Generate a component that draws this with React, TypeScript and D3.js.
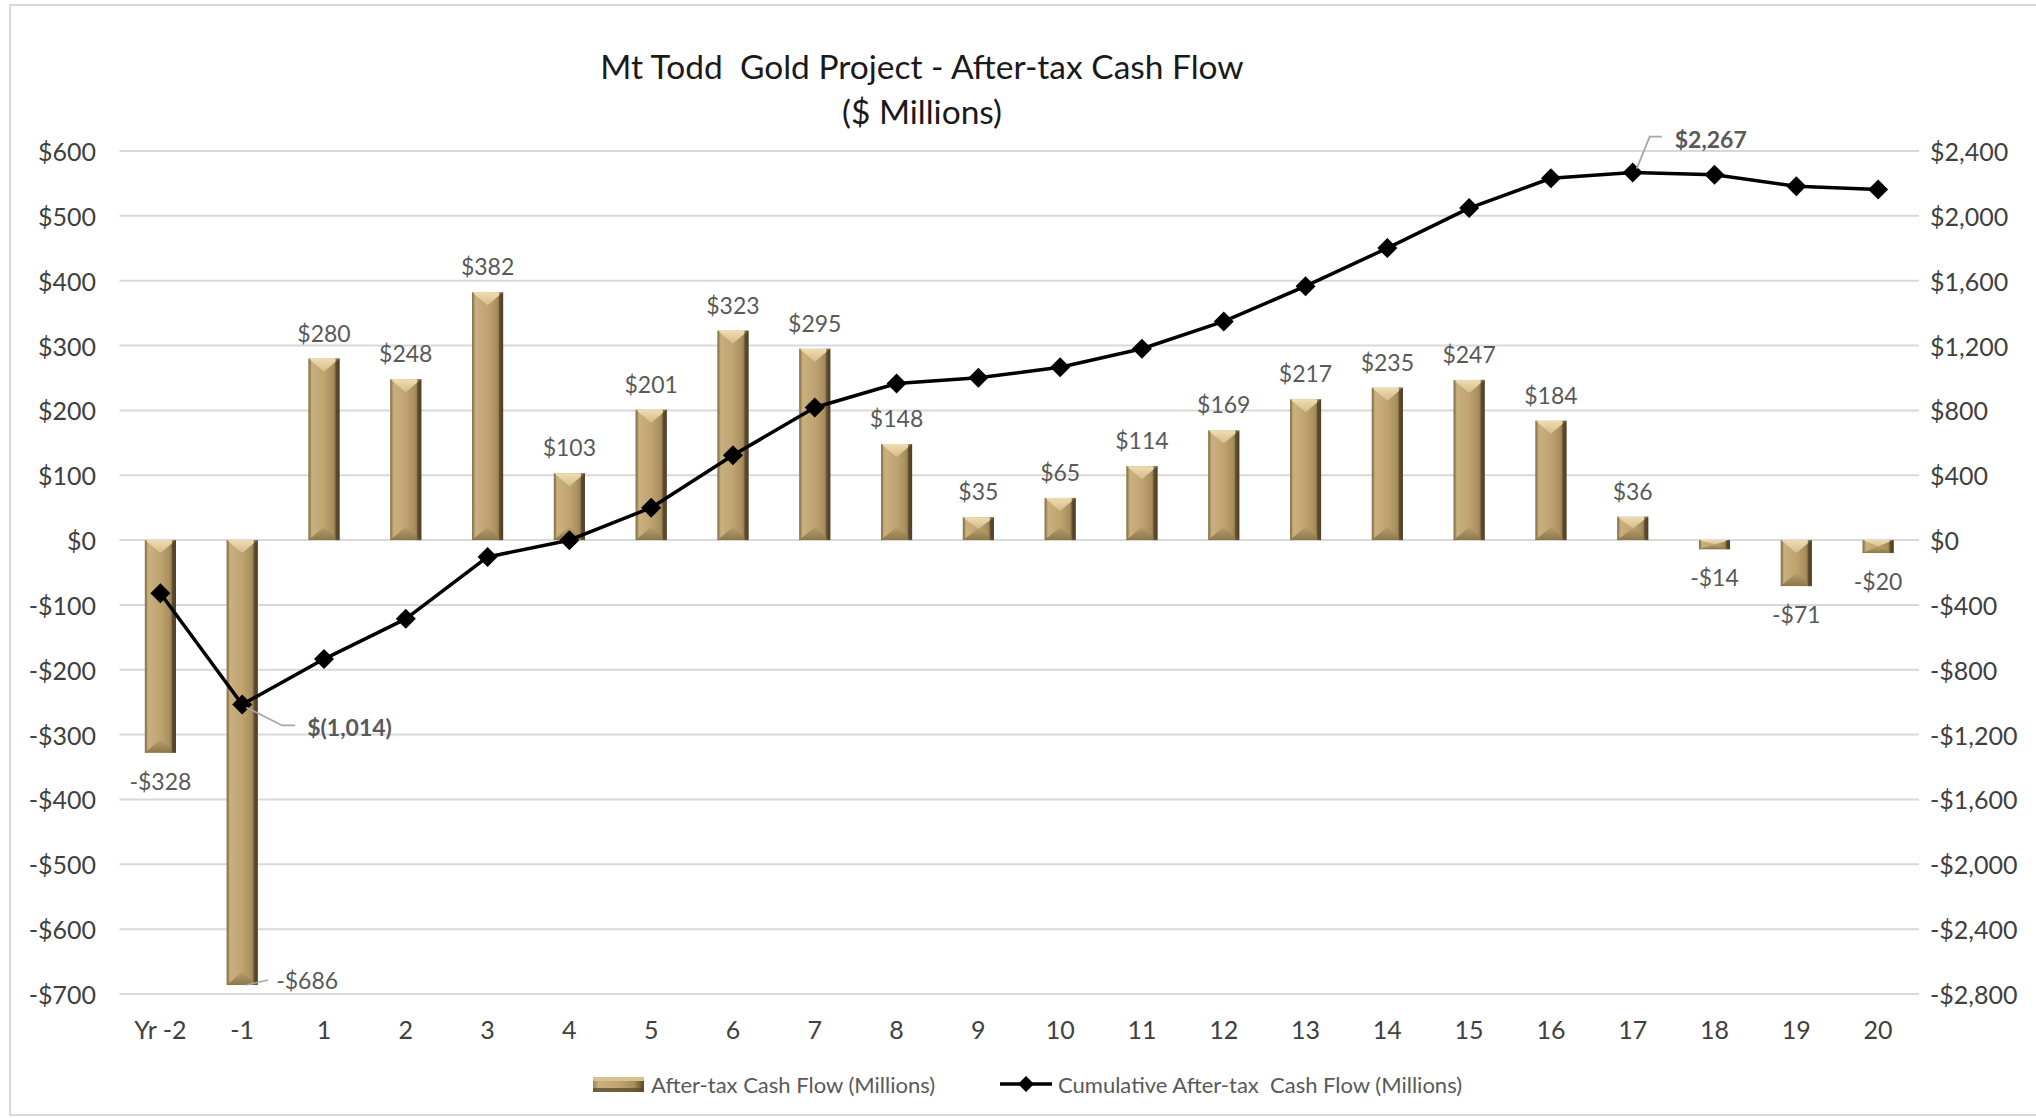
import React from "react";
import * as d3 from "d3";

const categories = ["Yr -2", "-1", "1", "2", "3", "4", "5", "6", "7", "8", "9", "10", "11", "12", "13", "14", "15", "16", "17", "18", "19", "20"];
const cashFlow = [-328, -686, 280, 248, 382, 103, 201, 323, 295, 148, 35, 65, 114, 169, 217, 235, 247, 184, 36, -14, -71, -20];
const cumulative = [-328, -1014, -734, -486, -104, -1, 200, 523, 818, 966, 1001, 1066, 1180, 1349, 1566, 1801, 2048, 2232, 2267, 2253, 2182, 2162];
const leftTicks = [600, 500, 400, 300, 200, 100, 0, -100, -200, -300, -400, -500, -600, -700];
const rightTicks = [2400, 2000, 1600, 1200, 800, 400, 0, -400, -800, -1200, -1600, -2000, -2400, -2800];
const titleLines = ["Mt Todd  Gold Project - After-tax Cash Flow", "($ Millions)"];
const legendLabels = ["After-tax Cash Flow (Millions)", "Cumulative After-tax  Cash Flow (Millions)"];
const annotatedIdx = [1, 18];

const W = 2036, H = 1118;
const FONT = "Lato, 'Liberation Sans', sans-serif";
const plotL = 119.5, plotR = 1919, plotT = 151, plotB = 994;

const x = d3.scalePoint<string>().domain(categories).range([plotL, plotR]).padding(0.5);
const step = x.step();
const barW = step * 0.38;
const yL = d3.scaleLinear().domain([-700, 600]).range([plotB, plotT]);
const yR = d3.scaleLinear().domain([-2800, 2400]).range([plotB, plotT]);

const money = (v: number) => (v < 0 ? `-$${d3.format(",")(-v)}` : `$${d3.format(",")(v)}`);
const acct = (v: number) => (v < 0 ? `$(${d3.format(",")(-v)})` : `$${d3.format(",")(v)}`);

function BevelBar({ bx, top, w, h }: { bx: number; top: number; w: number; h: number }) {
  const d = Math.min(13, h / 2, w / 2);
  const cx = bx + w / 2;
  const bot = top + h;
  const side = Math.min(4, h / 2);
  return (
    <g>
      <rect x={bx} y={top} width={w} height={h} fill="url(#barBody)" />
      <polygon points={`${bx},${top} ${bx + w},${top} ${cx},${top + d}`} fill="url(#barTop)" />
      <polygon points={`${bx},${bot} ${bx + w},${bot} ${cx},${bot - d}`} fill="url(#barBottom)" />
      <rect x={bx + w - side} y={top} width={side} height={h} fill="#4a3b22" opacity={0.65} />
      <rect x={bx} y={top} width={Math.min(2, side)} height={h} fill="#7e6a43" opacity={0.5} />
    </g>
  );
}

export default function App() {
  const line = d3
    .line<number>()
    .x((_, i) => x(categories[i]) as number)
    .y((v) => yR(v));
  const diamond = (cx: number, cy: number, r: number) =>
    `M${cx},${cy - r}L${cx + r},${cy}L${cx},${cy + r}L${cx - r},${cy}Z`;

  const a0 = annotatedIdx[0], a1 = annotatedIdx[1];
  const p0x = x(categories[a0]) as number, p0y = yR(cumulative[a0]);
  const p1x = x(categories[a1]) as number, p1y = yR(cumulative[a1]);

  return (
    <svg width={W} height={H} style={{ position: "fixed", left: 0, top: 0, background: "#fff" }} fontFamily={FONT}>
      <defs>
        <linearGradient id="barBody" x1="0" x2="1" y1="0" y2="0">
          <stop offset="0" stopColor="#9c8657" />
          <stop offset="0.12" stopColor="#c9b07e" />
          <stop offset="0.5" stopColor="#bfa471" />
          <stop offset="0.8" stopColor="#a88e5d" />
          <stop offset="1" stopColor="#584729" />
        </linearGradient>
        <linearGradient id="barTop" x1="0" x2="0" y1="0" y2="1">
          <stop offset="0" stopColor="#efdcb2" />
          <stop offset="1" stopColor="#d6bd8a" />
        </linearGradient>
        <linearGradient id="barBottom" x1="0" x2="0" y1="1" y2="0">
          <stop offset="0" stopColor="#8d7649" />
          <stop offset="1" stopColor="#b89e6c" />
        </linearGradient>
      </defs>
      <rect x={10} y={5} width={W} height={H - 8} fill="none" stroke="#d9d9d9" strokeWidth={2} />

      {titleLines.map((t, i) => (
        <text key={t} x={922} y={66 + i * 45} textAnchor="middle" dominantBaseline="central" fontSize={33.5} fill="#1a1a1a" xmlSpace="preserve">
          {t}
        </text>
      ))}

      {leftTicks.map((t) => (
        <line key={"g" + t} x1={plotL} x2={plotR} y1={yL(t)} y2={yL(t)} stroke="#d9d9d9" strokeWidth={2} />
      ))}
      {leftTicks.map((t) => (
        <text key={"l" + t} x={96} y={yL(t)} textAnchor="end" dominantBaseline="central" fontSize={25} fill="#404040">
          {money(t)}
        </text>
      ))}
      {rightTicks.map((t) => (
        <text key={"r" + t} x={1930} y={yR(t)} textAnchor="start" dominantBaseline="central" fontSize={25} fill="#404040">
          {money(t)}
        </text>
      ))}
      {categories.map((c) => (
        <text key={"c" + c} x={x(c) as number} y={1029} textAnchor="middle" dominantBaseline="central" fontSize={25} fill="#404040">
          {c}
        </text>
      ))}

      {cashFlow.map((v, i) => {
        const cx = x(categories[i]) as number;
        const top = Math.min(yL(v), yL(0));
        const h = Math.abs(yL(v) - yL(0));
        return <BevelBar key={"b" + i} bx={cx - barW / 2} top={top} w={barW} h={h} />;
      })}

      {cashFlow.map((v, i) => {
        const cx = x(categories[i]) as number;
        if (v === -686) {
          const ly = yL(v) - 2;
          return (
            <g key={"dl" + i}>
              <path d={`M${cx + 4},${ly + 2}L${cx + 26},${ly - 3}`} stroke="#a6a6a6" strokeWidth={1.5} fill="none" />
              <text x={cx + 34} y={ly - 3} dominantBaseline="central" fontSize={23} fill="#595959">
                {money(v)}
              </text>
            </g>
          );
        }
        const ly = v >= 0 ? yL(v) - 26 : yL(v) + 28;
        return (
          <text key={"dl" + i} x={cx} y={ly} textAnchor="middle" dominantBaseline="central" fontSize={23} fill="#595959">
            {money(v)}
          </text>
        );
      })}

      <path d={line(cumulative) || ""} fill="none" stroke="#000" strokeWidth={3.5} strokeLinejoin="round" />
      {cumulative.map((v, i) => (
        <path key={"m" + i} d={diamond(x(categories[i]) as number, yR(v), 10)} fill="#000" />
      ))}

      <path d={`M${p0x + 4},${p0y + 3}L${p0x + 40},${p0y + 21}L${p0x + 53},${p0y + 21}`} stroke="#a6a6a6" strokeWidth={1.8} fill="none" />
      <text x={p0x + 65} y={p0y + 23} dominantBaseline="central" fontSize={23} fontWeight="bold" fill="#595959">
        {acct(cumulative[a0])}
      </text>
      <path d={`M${p1x + 4},${p1y - 4}L${p1x + 17},${p1y - 36}L${p1x + 29},${p1y - 36}`} stroke="#a6a6a6" strokeWidth={1.8} fill="none" />
      <text x={p1x + 42} y={p1y - 34} dominantBaseline="central" fontSize={23} fontWeight="bold" fill="#595959">
        {acct(cumulative[a1])}
      </text>

      <g>
        <g transform="translate(593,1077)">
          <rect width={51} height={15} fill="url(#barBody)" />
          <rect width={51} height={4} fill="#d9c08e" />
          <rect y={11} width={51} height={4} fill="#5e4c2d" opacity={0.8} />
        </g>
        <text x={651} y={1084} dominantBaseline="central" fontSize={22} fill="#595959">
          {legendLabels[0]}
        </text>
        <line x1={1000} x2={1052} y1={1084} y2={1084} stroke="#000" strokeWidth={3.5} />
        <path d={diamond(1026, 1084, 8)} fill="#000" />
        <text x={1058} y={1084} dominantBaseline="central" fontSize={22} fill="#595959" xmlSpace="preserve">
          {legendLabels[1]}
        </text>
      </g>
    </svg>
  );
}
